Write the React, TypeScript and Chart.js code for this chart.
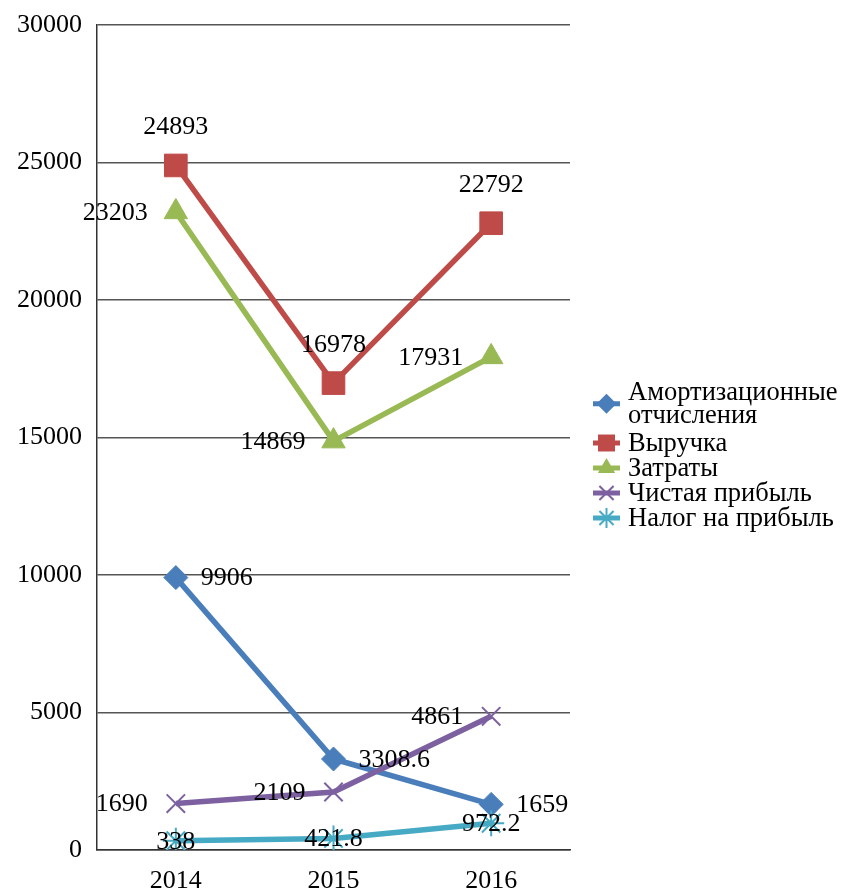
import { useEffect, useRef } from 'react';
import { Chart, registerables } from 'chart.js';

Chart.register(...registerables);

const years = ['2014', '2015', '2016'];
const yTicks = [0, 5000, 10000, 15000, 20000, 25000, 30000];

const amort = [9906, 3308.6, 1659];
const revenue = [24893, 16978, 22792];
const costs = [23203, 14869, 17931];
const netProfit = [1690, 2109, 4861];
const tax = [338, 421.8, 972.2];

const legendLines = [
  ['Амортизационные', 'отчисления'],
  ['Выручка'],
  ['Затраты'],
  ['Чистая прибыль'],
  ['Налог на прибыль'],
];

// label placement per series (style, not data)
const labelPlacement = [
  ['right', 'right', 'right'],
  ['above', 'above', 'above'],
  ['left', 'left', 'left'],
  ['left', 'left', 'left'],
  ['center', 'center', 'center'],
];

const FONT = "'Liberation Serif', 'Times New Roman', serif";
const colors = ['#4A7EBB', '#BE4B48', '#98B954', '#7D60A0', '#46AAC5'];
const pointStyles = ['rectRot', 'rect', 'triangle', 'crossRot', 'star'];
const pointRadii = [12, 16, 13.5, 13, 13];

function drawMarker(ctx: CanvasRenderingContext2D, style: string, r: number, x: number, y: number) {
  ctx.beginPath();
  if (style === 'rectRot') {
    ctx.moveTo(x, y - r); ctx.lineTo(x + r, y); ctx.lineTo(x, y + r); ctx.lineTo(x - r, y); ctx.closePath();
    ctx.fill();
  } else if (style === 'rect') {
    const h = r * Math.SQRT1_2;
    ctx.rect(x - h, y - h, 2 * h, 2 * h);
    ctx.fill();
  } else if (style === 'triangle') {
    ctx.moveTo(x, y - r); ctx.lineTo(x + r * 0.866, y + r * 0.5); ctx.lineTo(x - r * 0.866, y + r * 0.5); ctx.closePath();
    ctx.fill();
  } else if (style === 'crossRot') {
    const d = r * Math.SQRT1_2;
    ctx.moveTo(x - d, y - d); ctx.lineTo(x + d, y + d); ctx.moveTo(x + d, y - d); ctx.lineTo(x - d, y + d);
    ctx.stroke();
  } else {
    const d = r * Math.SQRT1_2;
    ctx.moveTo(x - d, y - d); ctx.lineTo(x + d, y + d); ctx.moveTo(x + d, y - d); ctx.lineTo(x - d, y + d);
    ctx.moveTo(x, y - r); ctx.lineTo(x, y + r); ctx.moveTo(x - r, y); ctx.lineTo(x + r, y);
    ctx.stroke();
  }
}

const dataLabelPlugin = {
  id: 'dataLabels',
  afterDatasetsDraw(chart: any) {
    const ctx = chart.ctx;
    ctx.save();
    ctx.font = `26px ${FONT}`;
    ctx.fillStyle = '#000';
    ctx.textBaseline = 'middle';
    chart.data.datasets.forEach((ds: any, di: number) => {
      const meta = chart.getDatasetMeta(di);
      meta.data.forEach((pt: any, i: number) => {
        const text = String(ds.data[i]);
        const pos = labelPlacement[di][i];
        let x = pt.x;
        let y = pt.y;
        if (pos === 'right') { ctx.textAlign = 'left'; x += 25; }
        else if (pos === 'left') { ctx.textAlign = 'right'; x -= 28; }
        else if (pos === 'above') { ctx.textAlign = 'center'; y -= 39; }
        else { ctx.textAlign = 'center'; }
        ctx.fillText(text, x, y + 1);
      });
    });
    ctx.restore();
  },
};

const legendPlugin = {
  id: 'customLegend',
  afterDraw(chart: any) {
    const ctx = chart.ctx;
    const area = chart.chartArea;
    const x0 = area.right + 23;
    const textX = area.right + 58;
    const lineH = 23.5;
    let y = 392;
    ctx.save();
    ctx.font = `26.5px ${FONT}`;
    ctx.textBaseline = 'middle';
    ctx.textAlign = 'left';
    legendLines.forEach((lines, i) => {
      const cy = y + ((lines.length - 1) * lineH) / 2;
      ctx.strokeStyle = colors[i];
      ctx.lineWidth = 5;
      ctx.beginPath();
      ctx.moveTo(x0, cy);
      ctx.lineTo(x0 + 27, cy);
      ctx.stroke();
      ctx.fillStyle = colors[i];
      ctx.lineWidth = 2;
      drawMarker(ctx, pointStyles[i], i === 1 ? 12 : 10, x0 + 13.5, cy);
      ctx.fillStyle = '#000';
      lines.forEach((t, li) => ctx.fillText(t, textX, y + li * lineH + 1));
      y += lines.length * lineH + (i === 0 ? 4 : 1.5);
    });
    ctx.restore();
  },
};

export default function App() {
  const ref = useRef<HTMLCanvasElement>(null);
  useEffect(() => {
    if (!ref.current) return;
    const seriesValues = [amort, revenue, costs, netProfit, tax];
    const chart = new Chart(ref.current, {
      type: 'line',
      data: {
        labels: years,
        datasets: seriesValues.map((vals, i) => ({
          label: legendLines[i].join(' '),
          data: vals,
          borderColor: colors[i],
          backgroundColor: colors[i],
          borderWidth: 5.5,
          pointStyle: pointStyles[i] as any,
          pointRadius: pointRadii[i],
          pointBackgroundColor: colors[i],
          pointBorderColor: colors[i],
          pointBorderWidth: i < 3 ? 1 : 2,
          tension: 0,
          order: 4 - i,
        })),
      },
      options: {
        animation: false,
        responsive: false,
        devicePixelRatio: 1,
        layout: { padding: { top: 25, right: 271, left: 0, bottom: 0 } },
        plugins: { legend: { display: false }, tooltip: { enabled: false } },
        scales: {
          x: {
            offset: true,
            grid: { display: false, drawTicks: false },
            border: { display: true, color: '#333', width: 1.5 },
            ticks: { color: '#000', font: { family: FONT, size: 26 }, padding: 16 },
            afterFit: (s: any) => { s.height = 41; },
          },
          y: {
            min: 0,
            max: 30000,
            afterBuildTicks: (s: any) => { s.ticks = yTicks.map((v) => ({ value: v })); },
            grid: { color: '#555', lineWidth: 1.5, drawTicks: false },
            border: { display: true, color: '#333', width: 1.5 },
            ticks: { color: '#000', font: { family: FONT, size: 26 }, padding: 15, callback: (v: any) => String(v) },
            afterFit: (s: any) => { s.width = 97; s.paddingTop = 0; s.paddingBottom = 0; },
          },
        },
      },
      plugins: [dataLabelPlugin, legendPlugin],
    });
    return () => chart.destroy();
  }, []);
  return (
    <div style={{ position: 'fixed', left: 0, top: 0, width: 841, height: 891, background: '#fff' }}>
      <canvas ref={ref} width={841} height={891} />
    </div>
  );
}
